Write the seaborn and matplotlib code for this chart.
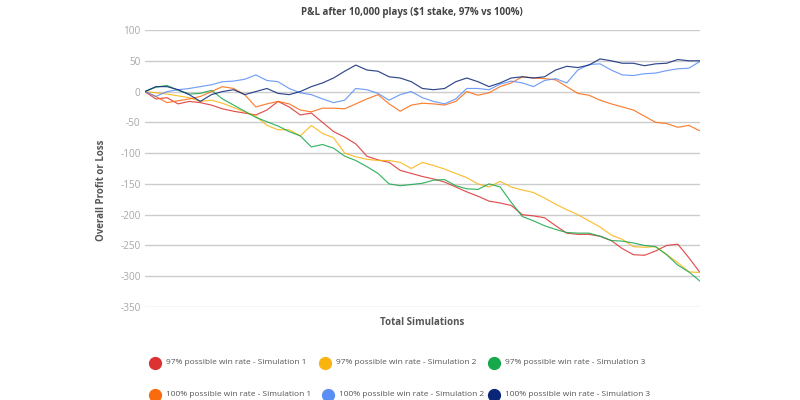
import numpy as np
import pandas as pd
import matplotlib
matplotlib.use("Agg")
import matplotlib.pyplot as plt
import seaborn as sns
from matplotlib.lines import Line2D

# Plays (x positions, every 200 plays up to 10,000)
plays = list(range(0, 10001, 200))

series_names = [
    "97% possible win rate - Simulation 1",
    "97% possible win rate - Simulation 2",
    "97% possible win rate - Simulation 3",
    "100% possible win rate - Simulation 1",
    "100% possible win rate - Simulation 2",
    "100% possible win rate - Simulation 3",
]
series_colors = ["#dc3232", "#fbb40f", "#17a84b", "#fa6a0f", "#5b8ef5", "#0b2679"]

red_97_1 = [0, -12, -10, -20, -16, -18, -22, -28, -32, -35, -38, -30, -16, -25, -38, -35,
            -50, -65, -74, -85, -105, -111, -115, -128, -133, -138, -142, -147, -155, -163,
            -170, -178, -181, -185, -200, -202, -205, -218, -230, -232, -232, -235, -242,
            -255, -265, -266, -259, -250, -248, -270, -294]
yellow_97_2 = [0, -2, -4, -7, -10, -16, -14, -19, -26, -33, -40, -55, -62, -62, -72, -55,
               -68, -75, -100, -106, -110, -112, -112, -115, -125, -115, -120, -126, -133,
               -140, -150, -155, -146, -155, -160, -164, -173, -183, -192, -200, -210, -220,
               -233, -240, -252, -253, -252, -265, -278, -293, -294]
green_97_3 = [0, 7, 10, 2, -4, -3, 2, -12, -22, -32, -42, -49, -56, -65, -72, -90, -86, -92,
              -105, -112, -122, -133, -150, -153, -151, -149, -144, -143, -153, -158, -159,
              -150, -155, -180, -203, -210, -218, -224, -229, -230, -230, -235, -242, -243,
              -246, -250, -252, -265, -282, -293, -308]
orange_100_1 = [0, -8, -18, -15, -12, -8, 0, 8, 5, -5, -25, -20, -16, -20, -30, -33, -27, -27,
                -28, -20, -12, -5, -20, -32, -22, -19, -20, -22, -16, 0, -6, -2, 8, 14, 24,
                22, 21, 19, 8, -3, -6, -14, -20, -25, -30, -40, -50, -52, -58, -55, -64]
blue_100_2 = [0, -8, 0, 3, 5, 8, 11, 16, 17, 20, 27, 18, 16, 5, -2, -5, -12, -18, -14, 5, 3,
              -3, -14, -5, 0, -10, -16, -20, -12, 5, 5, 3, 12, 17, 14, 8, 18, 21, 14, 35, 44,
              45, 35, 27, 26, 29, 30, 34, 37, 38, 49]
navy_100_3 = [0, 8, 8, 3, -5, -16, -5, 0, 3, -5, 0, 5, -3, -5, 0, 8, 14, 22, 33, 43, 35, 33,
              24, 22, 16, 5, 3, 5, 16, 22, 16, 8, 14, 22, 24, 22, 24, 35, 41, 39, 43, 53, 50,
              46, 46, 42, 45, 46, 52, 50, 50]

y_ticks = [100, 50, 0, -50, -100, -150, -200, -250, -300, -350]

all_values = [red_97_1, yellow_97_2, green_97_3, orange_100_1, blue_100_2, navy_100_3]
frames = []
for name, vals in zip(series_names, all_values):
    frames.append(pd.DataFrame({"plays": plays, "pl": vals, "series": name}))
df = pd.concat(frames, ignore_index=True)

sns.set_theme(style="white")
plt.rcParams["font.family"] = ["Open Sans", "DejaVu Sans"]

fig = plt.figure(figsize=(8, 4), dpi=100)
ax = fig.add_axes([0.181, 0.2325, 0.694, 0.6925])

sns.lineplot(data=df, x="plays", y="pl", hue="series", hue_order=series_names,
             palette=series_colors, linewidth=0.85, alpha=0.85, legend=False, ax=ax)

ax.set_ylim(-350, 100)
ax.set_xlim(0, 10000)
ax.set_yticks(y_ticks)
ax.set_yticklabels([str(v) for v in y_ticks])
ax.set_xticks([])
ax.yaxis.grid(True, color="#cccccc", linewidth=1)
for s in ax.spines.values():
    s.set_visible(False)
ax.tick_params(axis="y", length=0, pad=3, labelsize=7.2, labelcolor="#a8a8a8")
ax.set_axisbelow(True)

ax.set_xlabel("Total Simulations", fontsize=7, fontweight="bold", color="#555555", labelpad=7)
ax.set_ylabel("Overall Profit or Loss", fontsize=7, fontweight="bold", color="#555555")
ax.yaxis.set_label_coords(-0.068, 0.42)

fig.text(0.515, 0.97, "P&L after 10,000 plays (\\$1 stake, 97% vs 100%)", ha="center",
         va="center", fontsize=7.0, fontweight="bold", color="#444444")

# Legend (manual flow layout)
legend_pos = [(155, 363), (325, 363), (494, 363), (155, 395), (328, 395), (494, 395)]
for (px, py), name, col in zip(legend_pos, series_names, series_colors):
    fx, fy = px / 800, 1 - py / 400
    fig.add_artist(Line2D([fx], [fy], marker="o", markersize=8.5, color=col,
                          linestyle="none", transform=fig.transFigure))
    fig.text(fx + 11 / 800, fy, name, ha="left", va="center", fontsize=6.0, color="#555555")

fig.savefig("out.png", dpi=100, facecolor="white")
